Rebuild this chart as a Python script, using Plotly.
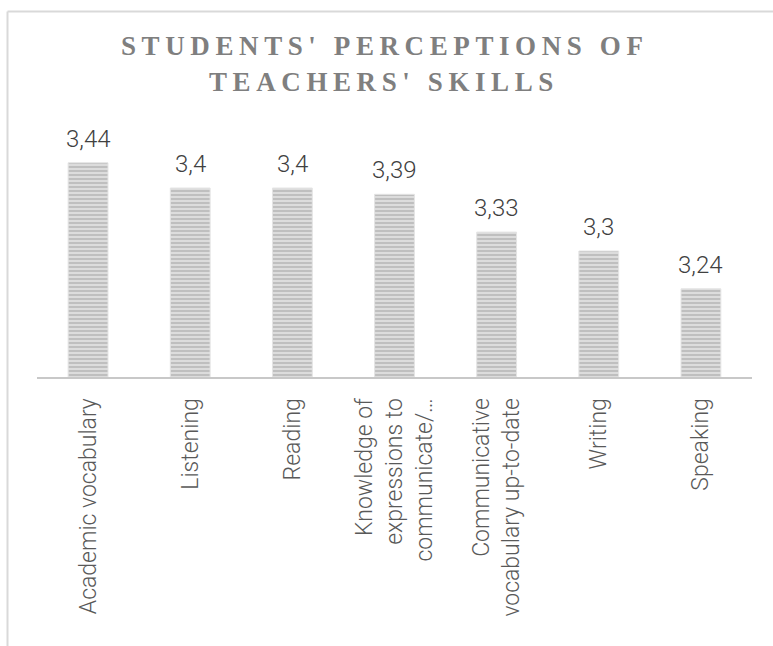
import plotly.graph_objects as go

# Survey results: mean rating per skill
skills = [
    "Academic vocabulary",
    "Listening",
    "Reading",
    "Knowledge of expressions to communicate/…",
    "Communicative vocabulary up-to-date",
    "Writing",
    "Speaking",
]
tick_labels = [
    "Academic vocabulary",
    "Listening",
    "Reading",
    "Knowledge of<br>expressions to<br>communicate/…",
    "Communicative<br>vocabulary up-to-date",
    "Writing",
    "Speaking",
]
scores = [3.44, 3.40, 3.40, 3.39, 3.33, 3.30, 3.24]
score_labels = ["3,44", "3,4", "3,4", "3,39", "3,33", "3,3", "3,24"]

title_lines = ["STUDENTS' PERCEPTIONS OF", "TEACHERS' SKILLS"]

W, H = 773, 646
L, R, T, B = 37, 21, 125, 269
plot_w = W - L - R
plot_h = H - T - B


def px_x(x):
    return (x - L) / plot_w


def px_y(y):
    return (H - B - y) / plot_h


fig = go.Figure(
    go.Bar(
        x=skills,
        y=scores,
        marker=dict(
            color="#dcdcdc",
            line=dict(color="#e4e4e4", width=1),
            pattern=dict(
                shape="-",
                bgcolor="#dcdcdc",
                fgcolor="#9c9c9c",
                size=4,
                solidity=0.45,
            ),
        ),
        hoverinfo="skip",
    )
)

# value labels above each bar
for s, v, lab in zip(skills, scores, score_labels):
    fig.add_annotation(
        x=s, y=v, text=lab, showarrow=False,
        xanchor="center", yanchor="bottom", yshift=8,
        font=dict(family="Roboto", size=24, color="#404040", weight=300),
    )

# two-line spaced title
title_y = [46, 82]
for line, ty in zip(title_lines, title_y):
    fig.add_annotation(
        xref="paper", yref="paper", x=px_x(384), y=px_y(ty),
        text=f'<span style="letter-spacing:5.6px">{line}</span>',
        showarrow=False, xanchor="center", yanchor="middle",
        font=dict(family="Liberation Serif", size=27, color="#7f7f7f", weight="bold"),
    )

# chart-area frame (left and top edges are in view)
frame = dict(color="#d9d9d9", width=2)
fig.add_shape(type="line", xref="paper", yref="paper",
              x0=px_x(7.5), x1=px_x(7.5), y0=px_y(11.5), y1=px_y(H + 10), line=frame)
fig.add_shape(type="line", xref="paper", yref="paper",
              x0=px_x(7.5), x1=px_x(W + 10), y0=px_y(11.5), y1=px_y(11.5), line=frame)

fig.update_layout(
    width=W, height=H,
    margin=dict(l=L, r=R, t=T, b=B, pad=0),
    paper_bgcolor="white", plot_bgcolor="white",
    bargap=0.61,
    showlegend=False,
    xaxis=dict(
        type="category",
        tickmode="array", tickvals=skills, ticktext=tick_labels,
        tickangle=-90,
        showline=True, linecolor="#c8c8c8", linewidth=2,
        ticks="", showgrid=False, zeroline=False,
        ticklabelstandoff=10,
        tickfont=dict(family="Roboto", size=23, color="#595959", weight=300),
    ),
    yaxis=dict(
        range=[3.1, 3.5], visible=False, showgrid=False, zeroline=False,
    ),
)

fig.write_html("out.html", config={"displayModeBar": False, "responsive": False})
